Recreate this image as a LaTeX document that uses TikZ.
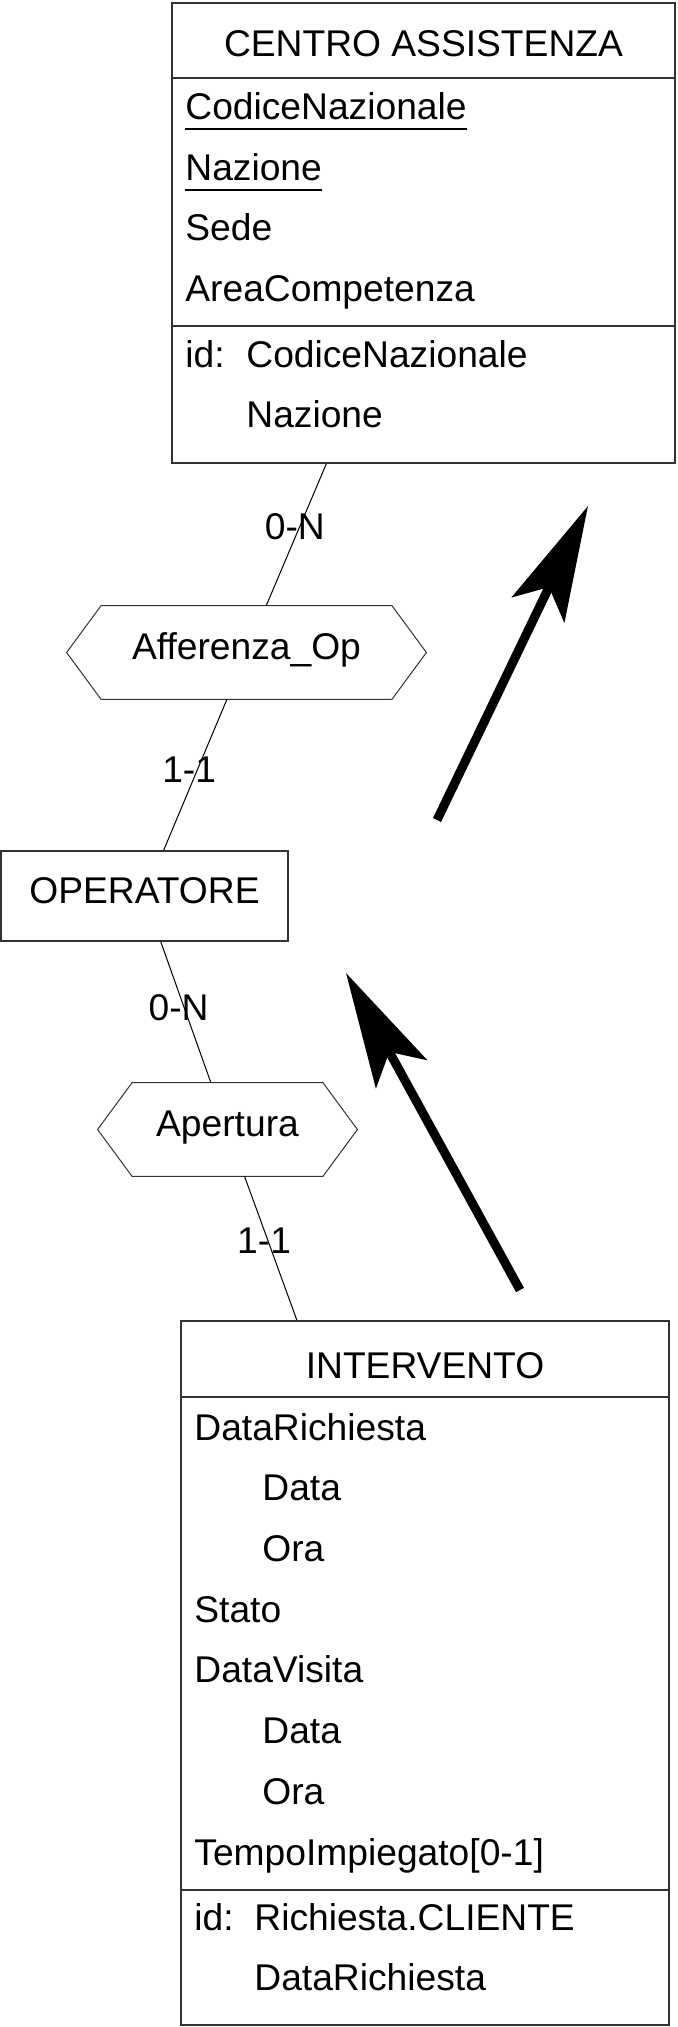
\documentclass[tikz,border=0pt]{standalone}
\usepackage{fontspec}
\setmainfont{Liberation Sans}
\usepackage{tikz}
\usetikzlibrary{arrows.meta, calc, positioning}

\tikzset{
  entity/.style={draw=black!80, line width=0.75pt, rectangle, inner sep=0pt},
  sepline/.style={draw=black!80, line width=0.75pt},
  relship/.style={rectangle, inner sep=0pt, minimum height=46.5pt, text height=0.72em, text depth=0pt},
  hexline/.style={draw=black!80, line width=0.5pt},
  attr/.style={anchor=base west, inner sep=0pt},
  etitle/.style={anchor=base, inner sep=0pt},
  card/.style={inner sep=0pt, text height=0.72em, text depth=0pt, yshift=-2.5pt},
  link/.style={line width=0.5pt},
  uline/.style={line width=1pt},
  bigarrow/.style={line width=4.5pt, -{Stealth[length=57.5pt, width=29pt, inset=12.5pt]}}
}

\begin{document}
\begin{tikzpicture}[x=0.5pt, y=-0.5pt, font=\fontsize{18.6}{22}\selectfont]
  \useasboundingbox (0,0) rectangle (678,2027);

  % Entities
  \node[entity, minimum width=251.5pt, minimum height=230pt] (ca) at (423.5,233) {};
  \node[entity, minimum width=143.5pt, minimum height=45pt, text height=0.72em, text depth=0pt] (op) at (144.5,896) {OPERATORE};
  \node[entity, minimum width=244pt, minimum height=352pt] (in) at (425,1673) {};

  % Relationships
  \node[relship, minimum width=179.5pt] (aff) at (246.5,652.5) {Afferenza\_Op};
  \node[relship, minimum width=129.5pt] (ap) at (227.5,1129.5) {Apertura};
  \foreach \r in {aff, ap}
    \draw[hexline] (\r.west) -- ($(\r.north west)+(34.5,0)$) -- ($(\r.north east)+(-34.5,0)$)
      -- (\r.east) -- ($(\r.south east)+(-34.5,0)$) -- ($(\r.south west)+(34.5,0)$) -- cycle;

  % CENTRO ASSISTENZA
  \node[etitle] (catitle) at (423.5,57) {CENTRO ASSISTENZA};
  \draw[sepline] (ca.west |- 0,78) -- (ca.east |- 0,78);
  \draw[sepline] (ca.west |- 0,326) -- (ca.east |- 0,326);
  \foreach \y/\a/\n in {120/CodiceNazionale/ca1, 181/Nazione/ca2, 241/Sede/ca3, 302/AreaCompetenza/ca4}
    \node[attr] (\n) at (185,\y) {\a};
  \foreach \n in {ca1, ca2}
    \draw[uline] ([yshift=-4.5pt]\n.base west) -- ([yshift=-4.5pt]\n.base east);
  \node[attr] (caid) at (185,368) {id:};
  \node[attr] (caid1) at (246,368) {CodiceNazionale};
  \node[attr] (caid2) at (246,428) {Nazione};

  % INTERVENTO
  \node[etitle] (intitle) at (425,1378) {INTERVENTO};
  \draw[sepline] (in.west |- 0,1397) -- (in.east |- 0,1397);
  \draw[sepline] (in.west |- 0,1890) -- (in.east |- 0,1890);
  \foreach \y/\x/\a/\n in {1440/194/DataRichiesta/in1, 1500.6/262/Data/in2, 1561/262/Ora/in3,
      1622/194/Stato/in4, 1682/194/DataVisita/in5, 1743/262/Data/in6, 1804/262/Ora/in7,
      1865/194/{TempoImpiegato[0-1]}/in8}
    \node[attr] (\n) at (\x,\y) {\a};
  \node[attr] (inid) at (194,1930) {id:};
  \node[attr] (inid1) at (254,1930) {Richiesta.CLIENTE};
  \node[attr] (inid2) at (254,1990) {DataRichiesta};

  % Links with cardinalities
  \draw[link] (ca) -- node[card, pos=0.45, xshift=-2.25pt] (c1) {0-N} (aff);
  \draw[link] (aff) -- node[card, pos=0.47, xshift=-4pt] (c2) {1-1} (op);
  \draw[link] (op) -- node[card, pos=0.47, xshift=-2.85pt] (c3) {0-N} (ap);
  \draw[link] (ap) -- node[card, pos=0.45, xshift=-2pt] (c4) {1-1} (in);

  % Big arrows
  \coordinate (a1s) at (437,820);
  \coordinate (a1e) at (588,506);
  \coordinate (a2s) at (520,1290);
  \coordinate (a2e) at (346,973);
  \draw[bigarrow] (a1s) -- (a1e);
  \draw[bigarrow] (a2s) -- (a2e);
\end{tikzpicture}
\end{document}
